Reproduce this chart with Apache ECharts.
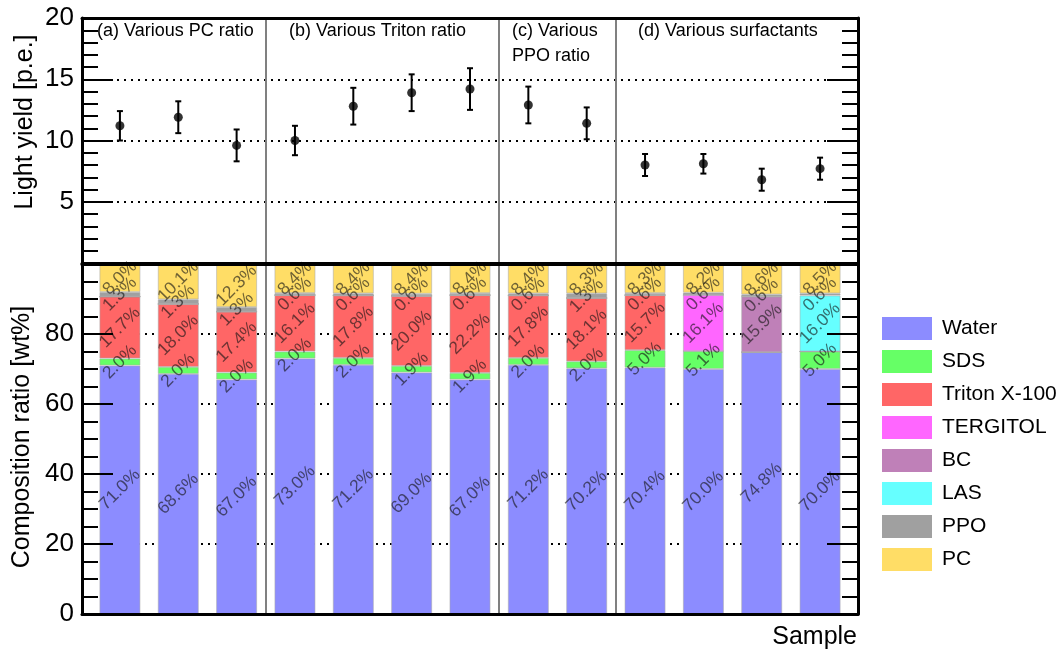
<!DOCTYPE html>
<html>
<head>
<meta charset="utf-8">
<script src="https://cdn.jsdelivr.net/npm/echarts@6/dist/echarts.min.js"></script>
<style>
  html, body { margin: 0; padding: 0; background: #fff; }
  #chart { width: 1064px; height: 655px; }
</style>
</head>
<body>
<div id="chart"></div>
<script>
// Sample groups (number of samples in each study)
const groupSizes = [3, 4, 2, 4];
const groupTitles = [
  ['(a) Various PC ratio'],
  ['(b) Various Triton ratio'],
  ['(c) Various', 'PPO ratio'],
  ['(d) Various surfactants']
];

// Light yield [p.e.] and its uncertainty, one entry per sample
const lightYield = [11.2, 11.9, 9.6, 10.0, 12.8, 13.9, 14.2, 12.9, 11.4, 8.0, 8.1, 6.8, 7.7];
const lightYieldErr = [1.2, 1.3, 1.3, 1.2, 1.5, 1.5, 1.7, 1.5, 1.3, 0.9, 0.8, 0.9, 0.9];

// Composition [wt%], one entry per sample
const water    = [71.0, 68.6, 67.0, 73.0, 71.2, 69.0, 67.0, 71.2, 70.2, 70.4, 70.0, 74.8, 70.0];
const sds      = [2.0, 2.0, 2.0, 2.0, 2.0, 1.9, 1.9, 2.0, 2.0, 5.0, 5.1, 0, 5.0];
const triton   = [17.7, 18.0, 17.4, 16.1, 17.8, 20.0, 22.2, 17.8, 18.1, 15.7, 0, 0, 0];
const tergitol = [0, 0, 0, 0, 0, 0, 0, 0, 0, 0, 16.1, 0, 0];
const bc       = [0, 0, 0, 0, 0, 0, 0, 0, 0, 0, 0, 15.9, 0];
const las      = [0, 0, 0, 0, 0, 0, 0, 0, 0, 0, 0, 0, 16.0];
const ppo      = [1.3, 1.3, 1.3, 0.6, 0.6, 0.6, 0.6, 0.6, 1.3, 0.6, 0.6, 0.6, 0.6];
const pc       = [8.0, 10.1, 12.3, 8.4, 8.4, 8.4, 8.4, 8.4, 8.3, 8.3, 8.2, 8.6, 8.5];

const lyTicks = [0, 5, 10, 15, 20];
const compTicks = [0, 20, 40, 60, 80, 100];

const components = [
  { name: 'Water',        values: water,    color: '#8c8cff' },
  { name: 'SDS',          values: sds,      color: '#66ff66' },
  { name: 'Triton X-100', values: triton,   color: '#ff6666' },
  { name: 'TERGITOL',     values: tergitol, color: '#ff66ff' },
  { name: 'BC',           values: bc,       color: '#bf80b8' },
  { name: 'LAS',          values: las,      color: '#66ffff' },
  { name: 'PPO',          values: ppo,      color: '#a0a0a0' },
  { name: 'PC',           values: pc,       color: '#ffdd66' }
];

const FONT = "'Liberation Sans', Arial, Helvetica, sans-serif";
const nSamples = lightYield.length;
const sampleNames = lightYield.map((_, i) => 'S' + (i + 1));
const xPos = lightYield.map((_, i) => i + 0.5);   // bin centres on the value axes
const groupEdges = [];
groupSizes.reduce((acc, n, i) => {
  acc += n;
  if (i < groupSizes.length - 1) groupEdges.push(acc);
  return acc;
}, 0);

const chart = echarts.init(document.getElementById('chart'), null, { renderer: 'canvas' });

// Plot frame: x range runs from -0.15 to nSamples + 0.15 bins
const X_PAD = 0.15;
const GRID_L = 82, GRID_R = 206, CHART_W = 1064;
const plotW = CHART_W - GRID_L - GRID_R;
const binW = plotW / (nSamples + 2 * X_PAD);
const padPx = X_PAD * binW;

const frameLine = { show: true, onZero: false, lineStyle: { color: '#000', width: 3 } };
const dotted = { show: true, lineStyle: { color: '#000', width: 2, type: [2, 5] } };

function xFrame(gridIndex, position) {
  return {
    type: 'value', gridIndex, position, min: -X_PAD, max: nSamples + X_PAD, z: 10,
    axisLine: frameLine, axisTick: { show: false }, axisLabel: { show: false },
    splitLine: { show: false }
  };
}

function yAxes(gridIndex, max, interval, minorSplit, hideMin, hideMax) {
  const ticks = {
    show: true, inside: true, length: 31, lineStyle: { color: '#000', width: 2 }
  };
  const minor = {
    show: true, splitNumber: minorSplit, length: 16, lineStyle: { color: '#000', width: 2 }
  };
  return [
    {
      type: 'value', gridIndex, position: 'left', min: 0, max, interval, z: 10,
      axisLine: frameLine, axisTick: ticks, minorTick: minor,
      axisLabel: {
        show: true, fontFamily: FONT, fontSize: 26, color: '#000', margin: 8,
        showMinLabel: !hideMin, showMaxLabel: !hideMax
      },
      splitLine: { show: false }
    },
    {
      type: 'value', gridIndex, position: 'right', min: 0, max, interval, z: 10,
      axisLine: frameLine, axisTick: ticks, minorTick: minor,
      axisLabel: { show: false }, splitLine: { show: false }
    },
    {
      type: 'value', gridIndex, position: 'left', min: 0, max, interval, z: 0,
      axisLine: { show: false }, axisTick: { show: false }, axisLabel: { show: false },
      splitLine: dotted
    }
  ];
}

const separatorLines = {
  silent: true, symbol: 'none', animation: false,
  label: { show: false },
  lineStyle: { color: '#808080', width: 2, type: 'solid' },
  data: groupEdges.map(v => ({ xAxis: v }))
};

const barSeries = components.map(c => ({
  name: c.name,
  type: 'bar',
  stack: 'composition',
  xAxisIndex: 4,
  yAxisIndex: 6,
  barWidth: '70%',
  itemStyle: { color: c.color, borderColor: 'rgba(170,170,170,0.7)', borderWidth: 0.8 },
  label: {
    show: true,
    position: 'inside',
    rotate: 45,
    fontFamily: FONT,
    fontSize: 17.5,
    color: 'rgba(20,20,20,0.62)',
    formatter: p => (p.value > 0 ? p.value.toFixed(1) + '%' : '')
  },
  emphasis: { disabled: true },
  data: c.values
}));

// Group titles placed at the top of each section
const titleLeft = [97, 289, 512, 638];
const graphics = [];
groupTitles.forEach((lines, g) => {
  lines.forEach((t, j) => {
    graphics.push({
      type: 'text', x: titleLeft[g], y: 31 + j * 25, z: 20,
      style: { text: t, font: '18px ' + FONT, fill: '#000', textAlign: 'left', textVerticalAlign: 'middle' }
    });
  });
});
graphics.push(
  {
    type: 'text', x: 25, y: 122, rotation: Math.PI / 2, z: 20,
    style: { text: 'Light yield [p.e.]', font: '25px ' + FONT, fill: '#000', textAlign: 'center', textVerticalAlign: 'middle' }
  },
  {
    type: 'text', x: 22, y: 437, rotation: Math.PI / 2, z: 20,
    style: { text: 'Composition ratio [wt%]', font: '25px ' + FONT, fill: '#000', textAlign: 'center', textVerticalAlign: 'middle' }
  },
  {
    type: 'text', x: 857, y: 637, z: 20,
    style: { text: 'Sample', font: '25px ' + FONT, fill: '#000', textAlign: 'right', textVerticalAlign: 'middle' }
  }
);

const option = {
  animation: false,
  backgroundColor: '#fff',
  grid: [
    { left: GRID_L, right: GRID_R, top: 18, height: 245 },
    { left: GRID_L, right: GRID_R, top: 264, height: 350 },
    // bar area: exactly the sample bins inside the lower frame
    { left: GRID_L + padPx, right: GRID_R + padPx, top: 264, height: 350 }
  ],
  xAxis: [
    xFrame(0, 'bottom'), xFrame(0, 'top'), xFrame(1, 'bottom'), xFrame(1, 'top'),
    {
      type: 'category', gridIndex: 2, data: sampleNames, boundaryGap: true, show: false
    }
  ],
  yAxis: [
    ...yAxes(0, lyTicks[lyTicks.length - 1], lyTicks[1] - lyTicks[0], 5, true, false),
    ...yAxes(1, compTicks[compTicks.length - 1], compTicks[1] - compTicks[0], 4, false, true),
    {
      type: 'value', gridIndex: 2, min: 0, max: compTicks[compTicks.length - 1], show: false,
      splitLine: { show: false }
    }
  ],
  legend: {
    orient: 'vertical',
    left: 882,
    top: 317,
    padding: 0,
    itemWidth: 50,
    itemHeight: 23,
    itemGap: 10,
    icon: 'rect',
    selectedMode: false,
    itemStyle: { borderWidth: 0 },
    textStyle: { fontFamily: FONT, fontSize: 21, color: '#000', padding: [0, 0, 0, 5] },
    data: components.map(c => c.name)
  },
  graphic: graphics,
  series: [
    {
      name: 'errors',
      type: 'custom',
      xAxisIndex: 0,
      yAxisIndex: 2,
      silent: true,
      z: 5,
      data: lightYield.map((v, i) => [xPos[i], v, lightYieldErr[i]]),
      renderItem: (params, api) => {
        const x = api.value(0), y = api.value(1), e = api.value(2);
        const hi = api.coord([x, y + e]);
        const lo = api.coord([x, y - e]);
        const cap = 3;
        const st = { stroke: '#000', lineWidth: 2 };
        return {
          type: 'group',
          children: [
            { type: 'line', shape: { x1: hi[0], y1: hi[1], x2: lo[0], y2: lo[1] }, style: st },
            { type: 'line', shape: { x1: hi[0] - cap, y1: hi[1], x2: hi[0] + cap, y2: hi[1] }, style: st },
            { type: 'line', shape: { x1: lo[0] - cap, y1: lo[1], x2: lo[0] + cap, y2: lo[1] }, style: st }
          ]
        };
      },
      markLine: separatorLines
    },
    {
      name: 'Light yield',
      type: 'scatter',
      xAxisIndex: 0,
      yAxisIndex: 2,
      symbol: 'circle',
      symbolSize: 9,
      z: 6,
      itemStyle: { color: '#000' },
      emphasis: { disabled: true },
      data: lightYield.map((v, i) => [xPos[i], v])
    },
    {
      // group separators through the lower panel
      name: 'separators',
      type: 'line',
      xAxisIndex: 2,
      yAxisIndex: 5,
      silent: true,
      symbol: 'none',
      lineStyle: { opacity: 0 },
      data: [],
      markLine: separatorLines
    },
    ...barSeries
  ]
};

chart.setOption(option);
</script>
</body>
</html>
